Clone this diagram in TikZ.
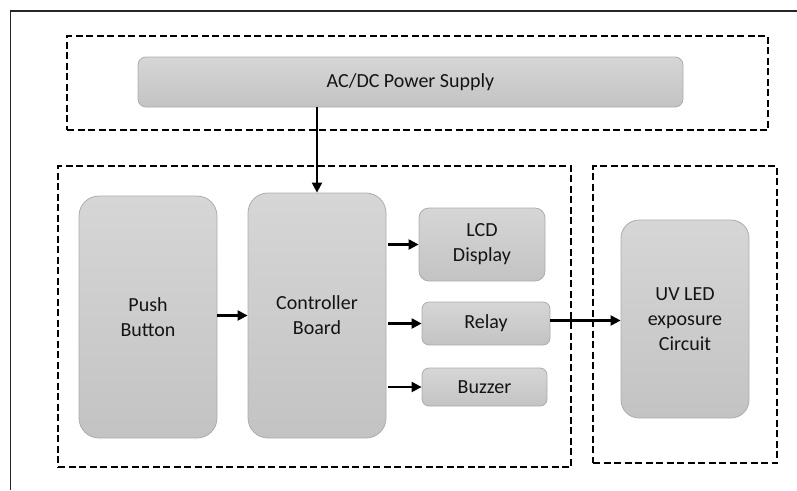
\documentclass[tikz,border=0pt]{standalone}
\usepackage{fontspec}
\setmainfont{Carlito}
\usetikzlibrary{arrows.meta,calc}
\definecolor{nodetop}{RGB}{214,214,214}
\definecolor{nodebot}{RGB}{195,195,195}
\definecolor{nodeline}{RGB}{172,172,172}
\definecolor{txt}{RGB}{20,20,20}
\tikzset{
  blk/.style={rectangle, draw=nodeline, line width=0.8pt, top color=nodetop, bottom color=nodebot,
    text=txt, align=center, inner sep=2pt, font=\fontsize{20}{25}\selectfont},
  grp/.style={rectangle, draw=black, line width=2.8pt, dash pattern=on 7pt off 3.5pt, inner sep=0pt},
  arr/.style={draw=black, line width=2.2pt, -{Triangle[length=10pt,width=10pt]}},
}
\begin{document}
\begin{tikzpicture}[x=1pt,y=-1pt]
\useasboundingbox (0,0) rectangle (797,490);
% frame
\coordinate (fa) at (797,11);
\coordinate (fb) at (10.5,11);
\coordinate (fc) at (10.5,490);
\draw[line width=1.4pt, black!85] (fa) -- (fb) -- (fc);
% groups
\node[grp, minimum width=701pt, minimum height=94pt] (gtop) at (417.5,83) {};
\node[grp, minimum width=513pt, minimum height=301pt] (gleft) at (314.5,316.5) {};
\node[grp, minimum width=184pt, minimum height=297pt] (gright) at (685,314.5) {};
% blocks
\node[blk, rounded corners=8pt, minimum width=545pt, minimum height=50pt] (power) at (410.5,82) {AC/DC Power Supply};
\node[blk, rounded corners=20pt, minimum width=138pt, minimum height=242pt] (push) at (148,317) {Push\\Button};
\node[blk, rounded corners=20pt, minimum width=138pt, minimum height=245pt] (ctrl) at (317,315.5) {Controller\\Board};
\node[blk, rounded corners=10pt, minimum width=126pt, minimum height=73pt] (lcd) at (482,244.5) {LCD\\Display};
\node[blk, rounded corners=7pt, minimum width=128pt, minimum height=43pt] (relay) at (486,323.5) {Relay};
\node[blk, rounded corners=7pt, minimum width=125pt, minimum height=38pt] (buzz) at (484.5,387) {Buzzer};
\node[blk, rounded corners=18pt, minimum width=128pt, minimum height=198pt] (uv) at (685,319) {UV LED\\exposure\\Circuit};
% connectors
\draw[arr] (ctrl.north |- power.south) -- (ctrl.north);
\draw[arr] (push.east |- ctrl) -- (ctrl.west);
\draw[arr] ($(ctrl.east |- lcd)+(2,0)$) -- (lcd.west);
\draw[arr] ($(ctrl.east |- relay)+(2,0)$) -- (relay.west);
\draw[arr] ($(ctrl.east |- buzz)+(2,0)$) -- (buzz.west);
\draw[arr] ($(relay.east)+(0,-3)$) -- (uv.west |- {$(relay.east)+(0,-3)$});
\end{tikzpicture}
\end{document}
